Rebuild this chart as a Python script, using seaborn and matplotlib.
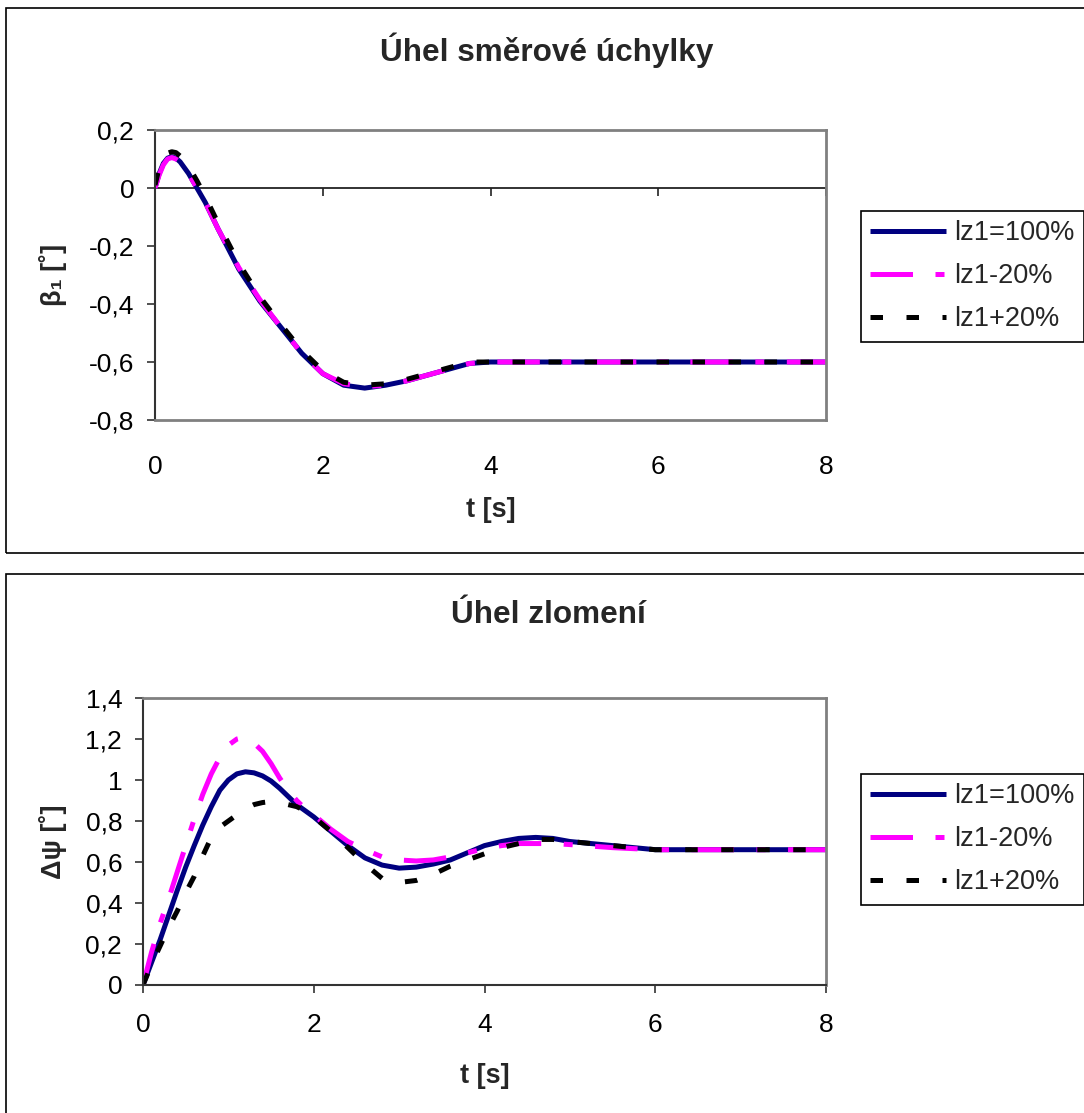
import matplotlib
matplotlib.use("Agg")
import matplotlib.pyplot as plt
import seaborn as sns
import pandas as pd
from matplotlib.patches import Rectangle
from matplotlib.ticker import FuncFormatter, MultipleLocator

# data
t_beta = [0, 0.05, 0.1, 0.15, 0.2, 0.25, 0.3, 0.4, 0.5, 0.6, 0.75, 1.0, 1.25, 1.5, 1.75, 2.0,
          2.25, 2.5, 2.75, 3.0, 3.25, 3.5, 3.75, 4.0, 4.5, 5.0, 6.0, 7.0, 8.0]
beta_100 = [0, 0.05, 0.085, 0.103, 0.108, 0.103, 0.09, 0.05, 0.0, -0.05, -0.14, -0.28, -0.39,
            -0.48, -0.57, -0.64, -0.68, -0.69, -0.68, -0.665, -0.645, -0.625, -0.605, -0.6,
            -0.6, -0.6, -0.6, -0.6, -0.6]
beta_m20 = [0, 0.045, 0.08, 0.1, 0.105, 0.1, 0.09, 0.05, 0.0, -0.05, -0.14, -0.275, -0.385,
            -0.48, -0.57, -0.64, -0.675, -0.685, -0.68, -0.665, -0.645, -0.625, -0.605, -0.6,
            -0.6, -0.6, -0.6, -0.6, -0.6]
beta_p20 = [0.01, 0.07, 0.1, 0.12, 0.125, 0.122, 0.11, 0.075, 0.025, -0.03, -0.12, -0.26, -0.375,
            -0.47, -0.56, -0.63, -0.67, -0.68, -0.675, -0.66, -0.64, -0.62, -0.60, -0.6,
            -0.6, -0.6, -0.6, -0.6, -0.6]

t_psi = [0, 0.1, 0.2, 0.3, 0.4, 0.5, 0.6, 0.7, 0.8, 0.9, 1.0, 1.1, 1.2, 1.3, 1.4, 1.5, 1.6,
         1.7, 1.8, 1.9, 2.0, 2.2, 2.4, 2.6, 2.8, 3.0, 3.2, 3.4, 3.6, 3.8, 4.0, 4.2, 4.4, 4.6,
         4.8, 5.0, 5.5, 6.0, 7.0, 8.0]
psi_100 = [0, 0.11, 0.22, 0.34, 0.46, 0.575, 0.68, 0.78, 0.87, 0.95, 1.0, 1.03, 1.04, 1.035,
           1.02, 0.995, 0.96, 0.92, 0.88, 0.85, 0.82, 0.75, 0.68, 0.62, 0.585, 0.57, 0.575,
           0.59, 0.61, 0.645, 0.68, 0.70, 0.715, 0.72, 0.715, 0.70, 0.68, 0.66, 0.66, 0.66]
psi_m20 = [0, 0.16, 0.30, 0.42, 0.55, 0.68, 0.81, 0.93, 1.03, 1.11, 1.17, 1.2, 1.21, 1.18,
           1.14, 1.08, 1.01, 0.95, 0.9, 0.86, 0.83, 0.76, 0.70, 0.66, 0.625, 0.61, 0.605,
           0.61, 0.625, 0.645, 0.665, 0.68, 0.69, 0.69, 0.69, 0.685, 0.67, 0.66, 0.66, 0.66]
psi_p20 = [0, 0.1, 0.19, 0.28, 0.36, 0.45, 0.53, 0.63, 0.72, 0.77, 0.80, 0.83, 0.86, 0.88,
           0.89, 0.895, 0.89, 0.88, 0.87, 0.85, 0.82, 0.75, 0.67, 0.59, 0.52, 0.50, 0.51,
           0.54, 0.58, 0.61, 0.64, 0.67, 0.69, 0.71, 0.71, 0.70, 0.68, 0.66, 0.66, 0.66]

labels = ["lz1=100%", "lz1-20%", "lz1+20%"]
colours = ["#000080", "#FF00FF", "#000000"]
dash_styles = [None, (8.5, 4.5, 1.8, 4.5), (2.5, 4.7)]

sns.set_theme(style="white")
plt.rcParams["font.family"] = ["Liberation Sans", "DejaVu Sans"]

W, H = 1084, 1113
fig = plt.figure(figsize=(W / 100, H / 100), dpi=100)
fig.patch.set_facecolor("white")

# chart area frames
fig.add_artist(Rectangle((6 / W, 1 - 553 / H), 1.2, (553 - 8) / H, transform=fig.transFigure,
                         fill=False, edgecolor="black", lw=1.2))
fig.add_artist(Rectangle((6 / W, -0.1), 1.2, 0.1 + 1 - 574 / H, transform=fig.transFigure,
                         fill=False, edgecolor="black", lw=1.2))

ax1 = fig.add_axes([155 / W, 1 - 420 / H, (826 - 155) / W, (420 - 130) / H])
ax2 = fig.add_axes([143 / W, 1 - 985 / H, (826 - 143) / W, (985 - 698) / H])

comma = FuncFormatter(lambda v, p: f"{round(v, 2):g}".replace(".", ","))


def draw_series(ax, t, series):
    handles = []
    for vals, lab, col, dsh in zip(series, labels, colours, dash_styles):
        df = pd.DataFrame({"t": t, "v": vals})
        sns.lineplot(data=df, x="t", y="v", ax=ax, color=col, lw=3.6, legend=False,
                     sort=False, solid_capstyle="butt")
        line = ax.lines[-1]
        if dsh is not None:
            line.set_dashes(dsh)
            line.set_dash_capstyle("butt")
        handles.append(line)
    return handles


def style_axis(ax):
    ax.set_facecolor("white")
    ax.grid(False)
    ax.set_xlim(0, 8)
    ax.xaxis.set_major_locator(MultipleLocator(2))
    ax.yaxis.set_major_locator(MultipleLocator(0.2))
    ax.yaxis.set_major_formatter(comma)
    ax.xaxis.set_major_formatter(comma)
    for s in ["top", "right"]:
        ax.spines[s].set_color("#808080")
        ax.spines[s].set_linewidth(2)
    ax.spines["left"].set_color("#333333")
    ax.spines["left"].set_linewidth(1.5)
    ax.tick_params(axis="y", direction="out", length=6, width=1.2, color="#333333",
                   labelsize=19, pad=9, left=True, labelcolor="black")


# top chart
h1 = draw_series(ax1, t_beta, [beta_100, beta_m20, beta_p20])
style_axis(ax1)
ax1.set_ylim(-0.8, 0.2)
ax1.spines["bottom"].set_color("#808080")
ax1.spines["bottom"].set_linewidth(2)
ax1.tick_params(axis="x", length=0, labelsize=19, pad=25, labelcolor="black")
zero_axis = ax1.secondary_xaxis(0, transform=ax1.transData)
zero_axis.xaxis.set_major_locator(MultipleLocator(2))
zero_axis.spines["bottom"].set_color("#222222")
zero_axis.spines["bottom"].set_linewidth(1.3)
zero_axis.tick_params(axis="x", direction="out", length=6, width=1.2, color="#222222",
                      labelbottom=False)
ax1.set_xlabel("t [s]", fontsize=19.5, fontweight="bold")
ax1.set_ylabel("β₁ [˚]", fontsize=19.5, fontweight="bold")
ax1.xaxis.set_label_coords(0.5, -0.266)
ax1.yaxis.set_label_coords(-0.131, 0.5)

# bottom chart
h2 = draw_series(ax2, t_psi, [psi_100, psi_m20, psi_p20])
style_axis(ax2)
ax2.set_ylim(0, 1.4)
ax2.spines["bottom"].set_color("#333333")
ax2.spines["bottom"].set_linewidth(1.5)
ax2.tick_params(axis="x", direction="out", length=6, width=1.2, color="#333333",
                labelsize=19, pad=14, bottom=True, labelcolor="black")
ax2.set_xlabel("t [s]", fontsize=19.5, fontweight="bold")
ax2.set_ylabel("Δψ [˚]", fontsize=19.5, fontweight="bold")
ax2.xaxis.set_label_coords(0.5, -0.272)
ax2.yaxis.set_label_coords(-0.111, 0.5)

# titles
fig.text(547 / W, 1 - 50 / H, "Úhel směrové úchylky", ha="center", va="center",
         fontsize=22.7, fontweight="bold")
fig.text(548 / W, 1 - 615 / H, "Úhel zlomení", ha="center", va="center",
         fontsize=22.7, fontweight="bold")

# legends
for handles, top in [(h1, 211), (h2, 774)]:
    leg = fig.legend(handles, labels, loc="upper left", bbox_to_anchor=(861 / W, 1 - top / H),
                     fontsize=19.5, frameon=True, fancybox=False, framealpha=1,
                     edgecolor="black", handlelength=2.77, handletextpad=0.33,
                     borderpad=0.35, labelspacing=0.62, borderaxespad=0)
    leg.get_frame().set_linewidth(1.2)

fig.savefig("out.png", dpi=100)
